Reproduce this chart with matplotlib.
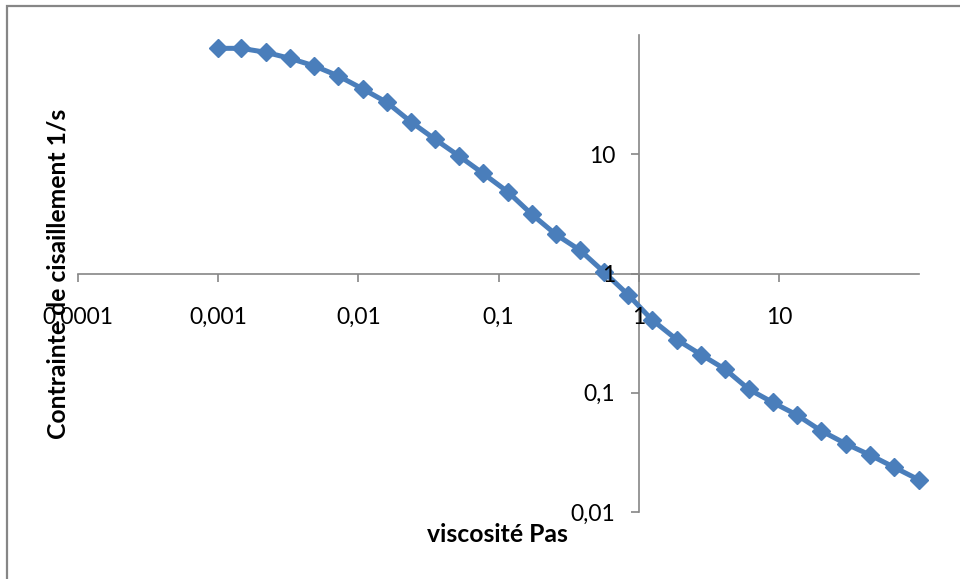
import matplotlib
matplotlib.use("Agg")
import matplotlib.pyplot as plt
from matplotlib.ticker import FixedLocator, FuncFormatter, NullLocator
from matplotlib.patches import Rectangle

# viscosité (Pas) and contrainte de cisaillement (1/s)
viscosite = [0.001, 0.00146, 0.00219, 0.00325, 0.00482, 0.00716, 0.0108, 0.016,
             0.0237, 0.0351, 0.0522, 0.0774, 0.117, 0.173, 0.256, 0.381, 0.565,
             0.838, 1.24, 1.87, 2.78, 4.12, 6.11, 9.06, 13.4, 19.9, 30.1, 44.6,
             66.1, 100]
contrainte = [77.3, 77.3, 71.6, 63.7, 55.2, 45.5, 35.2, 27.2, 18.7, 13.4, 9.68,
              6.92, 4.82, 3.13, 2.13, 1.57, 1.03, 0.666, 0.411, 0.279, 0.209,
              0.158, 0.107, 0.0829, 0.0653, 0.0482, 0.0373, 0.0301, 0.0238, 0.0186]

xticks = [0.0001, 0.001, 0.01, 0.1, 1, 10]
yticks = [0.01, 0.1, 1, 10]

plt.rcParams['font.family'] = ['Lato', 'DejaVu Sans']

W, H = 960, 579
fig = plt.figure(figsize=(9.6, 5.79), dpi=100)
ax = fig.add_axes([78 / W, 1 - 512 / H, 841 / W, 477 / H])

ax.plot(viscosite, contrainte, color='#4A7EBB', linewidth=3.6,
        marker='D', markersize=9.2, markerfacecolor='#4A7EBB',
        markeredgecolor='#4A7EBB', zorder=2, clip_on=False)

ax.set_xscale('log')
ax.set_yscale('log')
ax.set_xlim(0.0001, 100)
ax.set_ylim(0.01, 100)

def fmt(v, pos):
    s = ('%f' % v).rstrip('0').rstrip('.')
    return s.replace('.', ',')

ax.xaxis.set_major_locator(FixedLocator(xticks))
ax.yaxis.set_major_locator(FixedLocator(yticks))
ax.xaxis.set_minor_locator(NullLocator())
ax.yaxis.set_minor_locator(NullLocator())
ax.xaxis.set_major_formatter(FuncFormatter(fmt))
ax.yaxis.set_major_formatter(FuncFormatter(fmt))

for side in ['top', 'right']:
    ax.spines[side].set_visible(False)
ax.spines['left'].set_position(('data', 1))
ax.spines['bottom'].set_position(('data', 1))
for side in ['left', 'bottom']:
    ax.spines[side].set_color('#868686')
    ax.spines[side].set_linewidth(1.2)
    ax.spines[side].set_zorder(1)

# tick labels sit on top of the curve, as in the original
ax.set_axisbelow(False)
ax.tick_params(axis='both', direction='out', length=6, width=1.2,
               color='#868686', labelsize=16.5, labelcolor='black')
ax.tick_params(axis='x', pad=18)
ax.tick_params(axis='y', pad=11)

ax.patch.set_visible(False)

fig.text(497 / W, 1 - 535 / H, 'viscosité Pas', ha='center', va='center',
         fontsize=17.8, fontweight='bold')
fig.text(58 / W, 1 - 274 / H, 'Contrainte de cisaillement 1/s', ha='center',
         va='center', rotation=90, fontsize=17.8, fontweight='bold')

# chart area border (only left and top edges are visible in the picture)
fig.patches.append(Rectangle((7 / W, -0.2), 1.5, 1.2 - 6 / H,
                             transform=fig.transFigure, fill=False,
                             edgecolor='#868686', linewidth=1.6))

fig.savefig('out.png', dpi=100)
